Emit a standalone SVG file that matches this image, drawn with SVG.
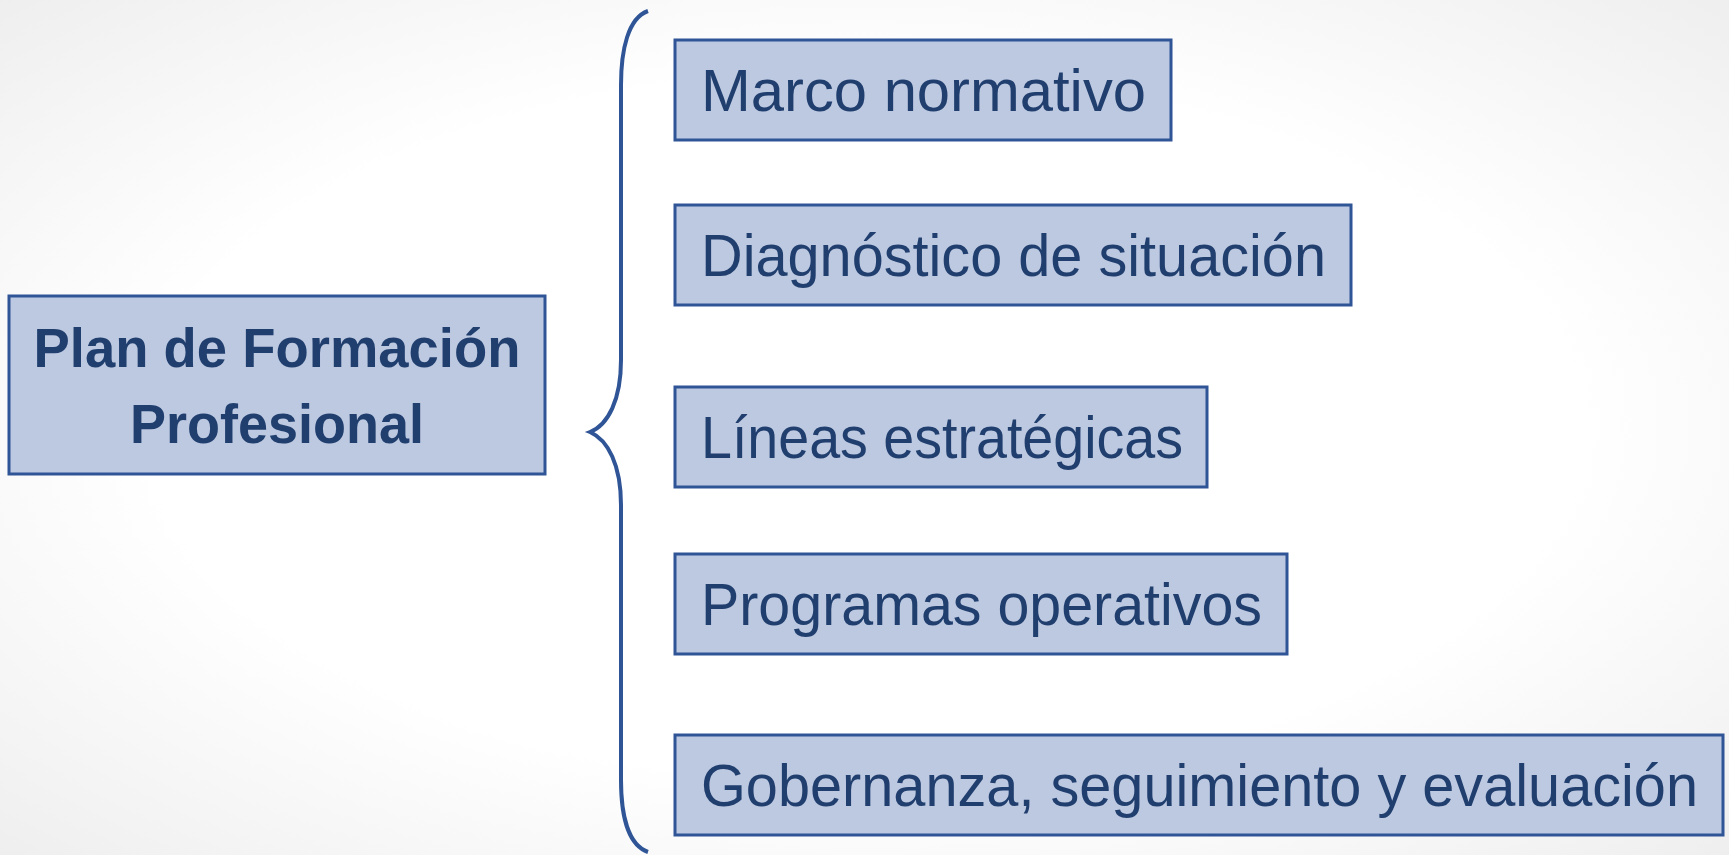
<svg xmlns="http://www.w3.org/2000/svg" width="1729" height="855" viewBox="0 0 1729 855">
<defs>
<radialGradient id="bg" cx="50%" cy="50%" r="75%">
<stop offset="0.55" stop-color="#ffffff"/>
<stop offset="1" stop-color="#ececec"/>
</radialGradient>
<style>
.box{fill:#bdc8e1;stroke:#2f5597;stroke-width:3}
.t{font-family:"Liberation Sans",Arial,sans-serif;font-size:60px;fill:#203f6e}
.b{font-family:"Liberation Sans",Arial,sans-serif;font-size:55px;font-weight:bold;fill:#203f6e;text-anchor:middle}
.br{fill:none;stroke:#2f5597;stroke-width:4}
</style>
</defs>
<rect width="1729" height="855" fill="url(#bg)"/>
<g id="connectors">
<path class="br" d="M648,11 C628,18 621,50 621,85 L621,360 C621,400 608,425 590,432 C608,440 621,465 621,505 L621,780 C621,815 628,845 648,852"/>
</g>
<g id="root">
<rect class="box" x="9" y="296" width="536" height="178"/>
<text class="b" x="277" y="367" textLength="487" lengthAdjust="spacingAndGlyphs">Plan de Formación</text>
<text class="b" x="277" y="443" textLength="294" lengthAdjust="spacingAndGlyphs">Profesional</text>
</g>
<g id="n1">
<rect class="box" x="675" y="40" width="496" height="100"/>
<text class="t" x="701" y="111" textLength="445" lengthAdjust="spacingAndGlyphs">Marco normativo</text>
</g>
<g id="n2">
<rect class="box" x="675" y="205" width="676" height="100"/>
<text class="t" x="701" y="276" textLength="625" lengthAdjust="spacingAndGlyphs">Diagnóstico de situación</text>
</g>
<g id="n3">
<rect class="box" x="675" y="387" width="532" height="100"/>
<text class="t" x="701" y="458" textLength="482" lengthAdjust="spacingAndGlyphs">Líneas estratégicas</text>
</g>
<g id="n4">
<rect class="box" x="675" y="554" width="612" height="100"/>
<text class="t" x="701" y="625" textLength="561" lengthAdjust="spacingAndGlyphs">Programas operativos</text>
</g>
<g id="n5">
<rect class="box" x="675" y="735" width="1048" height="100"/>
<text class="t" x="701" y="806" textLength="997" lengthAdjust="spacingAndGlyphs">Gobernanza, seguimiento y evaluación</text>
</g>
</svg>
